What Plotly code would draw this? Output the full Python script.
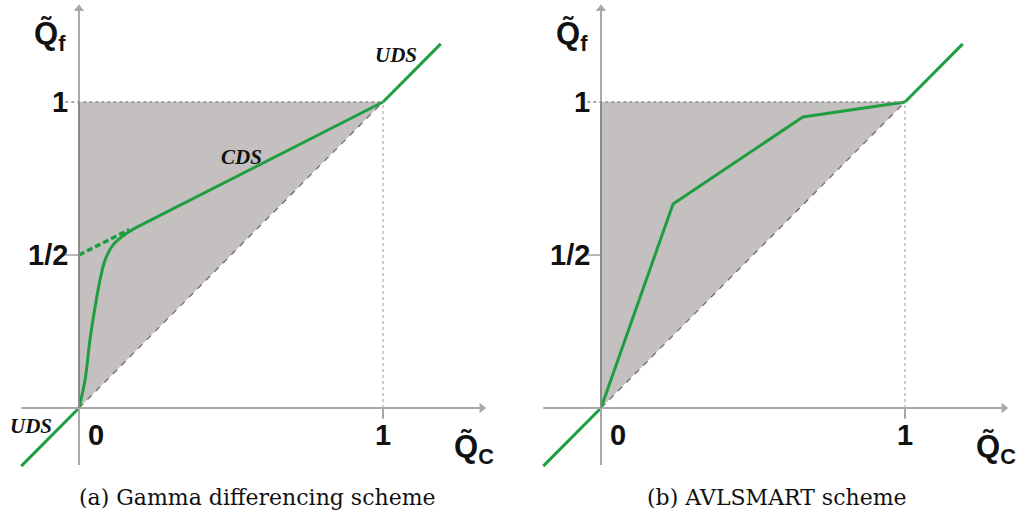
import plotly.graph_objects as go

# ---- data ----
region_x = [0, 0, 1, 0]
region_y = [0, 1, 1, 0]

uds_low_x = [-0.19, 0]
uds_low_y = [-0.19, 0]
uds_high_x = [1.0, 1.19]
uds_high_y = [1.0, 1.19]

gamma_curve_x = [0, 0.02, 0.036, 0.053, 0.069, 0.086, 0.112, 0.158, 0.21]
gamma_curve_y = [0, 0.092, 0.222, 0.33, 0.418, 0.484, 0.533, 0.572, 0.601]
cds_x = [0.21, 1.0]
cds_y = [0.601, 1.0]
cds_ext_x = [0, 0.165]
cds_ext_y = [0.5, 0.583]

avl_x = [0, 0.237, 0.664, 1.0]
avl_y = [0, 0.667, 0.951, 1.0]

y_tick_vals = [1, 0.5]
y_tick_text = ["1", "1/2"]
x_tick_vals = [0, 1]
x_tick_text = ["0", "1"]

captions = ["(a) Gamma differencing scheme", "(b) AVLSMART scheme"]

GREEN = "#1f9e3f"
FILL = "rgb(196,192,192)"
AX = "#a9a9a9"

fig = go.Figure()

panels = [("x", "y"), ("x2", "y2")]

for i, (xr, yr) in enumerate(panels):
    fig.add_trace(go.Scatter(x=region_x, y=region_y, fill="toself", fillcolor=FILL,
                             line=dict(width=0), mode="lines", xaxis=xr, yaxis=yr,
                             hoverinfo="skip", showlegend=False))
    fig.add_trace(go.Scatter(x=[0, 1], y=[0, 1], mode="lines",
                             line=dict(color="#6e6e6e", width=1.3, dash="6px,6px"),
                             xaxis=xr, yaxis=yr, showlegend=False))
    # arrowheads as markers
    fig.add_trace(go.Scatter(x=[1.325], y=[0], mode="markers",
                             marker=dict(symbol="triangle-right", size=9, color=AX),
                             xaxis=xr, yaxis=yr, showlegend=False, hoverinfo="skip"))
    fig.add_trace(go.Scatter(x=[0], y=[1.305], mode="markers",
                             marker=dict(symbol="triangle-up", size=9, color=AX),
                             xaxis=xr, yaxis=yr, showlegend=False, hoverinfo="skip"))

for i, (xr, yr) in enumerate(panels):
    fig.add_shape(type="line", xref=xr, yref=yr, x0=-0.19, y0=0, x1=1.32, y1=0,
                  line=dict(color=AX, width=2))
    fig.add_shape(type="line", xref=xr, yref=yr, x0=0, y0=-0.186, x1=0, y1=1.3,
                  line=dict(color=AX, width=2))
    fig.add_shape(type="line", xref=xr, yref=yr, x0=0, y0=0, x1=0, y1=1,
                  line=dict(color="#8a8a8a", width=2))
    fig.add_shape(type="line", xref=xr, yref=yr, x0=-0.045, y0=1, x1=1, y1=1,
                  line=dict(color="#8c8c8c", width=1.5, dash="dot"))
    fig.add_shape(type="line", xref=xr, yref=yr, x0=1, y0=0, x1=1, y1=1,
                  line=dict(color="#bdbdbd", width=1.5, dash="dot"))
    fig.add_shape(type="line", xref=xr, yref=yr, x0=-0.045, y0=0.5, x1=0, y1=0.5,
                  line=dict(color="#8a8a8a", width=1.2))
    fig.add_shape(type="line", xref=xr, yref=yr, x0=1, y0=0, x1=1, y1=-0.035,
                  line=dict(color=AX, width=2))

    lab = dict(family="Liberation Sans", size=29, color="#111111")
    for v, t in zip(y_tick_vals, y_tick_text):
        fig.add_annotation(xref=xr, yref=yr, x=-0.03, y=v, text="<b>%s</b>" % t,
                           showarrow=False, xanchor="right", yanchor="middle", font=lab)
    for v, t in zip(x_tick_vals, x_tick_text):
        fig.add_annotation(xref=xr, yref=yr, x=v + (0.055 if v == 0 else 0), y=-0.03,
                           text="<b>%s</b>" % t, showarrow=False, xanchor="center",
                           yanchor="top", font=lab)
    fig.add_annotation(xref=xr, yref=yr, x=-0.095, y=1.215, text="<b>Q\u0303<sub>f</sub></b>",
                       showarrow=False, xanchor="center", yanchor="middle",
                       font=dict(family="Liberation Sans", size=31, color="#111111"))
    fig.add_annotation(xref=xr, yref=yr, x=1.3, y=-0.135, text="<b>Q\u0303<sub>C</sub></b>",
                       showarrow=False, xanchor="center", yanchor="middle",
                       font=dict(family="Liberation Sans", size=31, color="#111111"))
    fig.add_annotation(xref="paper", yref="paper",
                       x=0.251 if i == 0 else 0.759, y=(522 - 497) / 522.0,
                       text=captions[i], showarrow=False, xanchor="center", yanchor="middle",
                       font=dict(family="DejaVu Serif", size=22, color="#111111"))

gl = dict(color=GREEN, width=3)
for xs, ys in [(uds_low_x, uds_low_y), (uds_high_x, uds_high_y), (cds_x, cds_y)]:
    fig.add_trace(go.Scatter(x=xs, y=ys, mode="lines", line=gl, xaxis="x", yaxis="y",
                             showlegend=False))
fig.add_trace(go.Scatter(x=gamma_curve_x, y=gamma_curve_y, mode="lines",
                         line=dict(color=GREEN, width=3, shape="spline", smoothing=1.0),
                         xaxis="x", yaxis="y", showlegend=False))
fig.add_trace(go.Scatter(x=cds_ext_x, y=cds_ext_y, mode="lines",
                         line=dict(color=GREEN, width=3.5, dash="6px,3px"),
                         xaxis="x", yaxis="y", showlegend=False))

for xs, ys in [(uds_low_x, uds_low_y), (uds_high_x, uds_high_y), (avl_x, avl_y)]:
    fig.add_trace(go.Scatter(x=xs, y=ys, mode="lines", line=gl, xaxis="x2", yaxis="y2",
                             showlegend=False))

sch = dict(family="Liberation Serif", size=21, color="#111111")
fig.add_annotation(xref="x", yref="y", x=-0.158, y=-0.06, text="<b><i>UDS</i></b>",
                   showarrow=False, xanchor="center", yanchor="middle", font=sch)
fig.add_annotation(xref="x", yref="y", x=1.042, y=1.155, text="<b><i>UDS</i></b>",
                   showarrow=False, xanchor="center", yanchor="middle", font=sch)
fig.add_annotation(xref="x", yref="y", x=0.533, y=0.82, text="<b><i>CDS</i></b>",
                   showarrow=False, xanchor="center", yanchor="middle", font=sch)

yr_ = [(408 - 522) / 306.0, 408 / 306.0]
fig.update_layout(
    width=1024, height=522, margin=dict(l=0, r=0, t=0, b=0),
    paper_bgcolor="white", plot_bgcolor="white", showlegend=False,
    xaxis=dict(domain=[0, 0.5], range=[-79 / 304.0, (512 - 79) / 304.0], visible=False),
    yaxis=dict(domain=[0, 1], range=yr_, visible=False),
    xaxis2=dict(domain=[0.5, 1], range=[-(601 - 512) / 304.0, (1024 - 601) / 304.0], visible=False),
    yaxis2=dict(domain=[0, 1], range=yr_, visible=False, anchor="x2"),
)

fig.write_html("out.html")
